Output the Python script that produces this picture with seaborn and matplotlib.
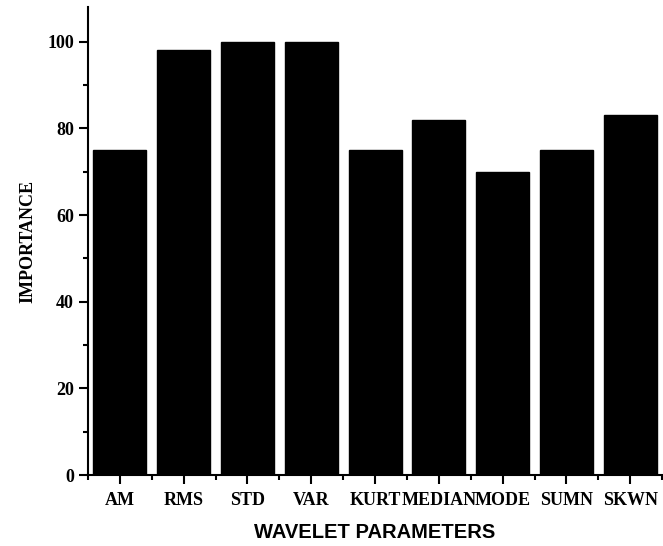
import matplotlib
matplotlib.use("Agg")
import matplotlib.pyplot as plt
import seaborn as sns
import pandas as pd
from matplotlib.ticker import MultipleLocator, FixedLocator

categories = ["AM", "RMS", "STD", "VAR", "KURT", "MEDIAN", "MODE", "SUMN", "SKWN"]
importance = [75, 98, 100, 100, 75, 82, 70, 75, 83]

df = pd.DataFrame({"param": categories, "importance": importance})

sns.set_style("ticks")
plt.rcParams['font.family'] = ['Liberation Serif', 'DejaVu Serif']

fig = plt.figure(figsize=(6.63, 5.46), dpi=100)
ax = fig.add_axes([0.1327, 0.130, 0.866, 0.857])

sns.barplot(data=df, x="param", y="importance", color="black", width=0.83,
            saturation=1, ax=ax, edgecolor="black")

ax.set_ylim(0, 108)
ax.set_xlim(-0.5, len(categories) - 0.5)
ax.yaxis.set_major_locator(MultipleLocator(20))
ax.yaxis.set_minor_locator(MultipleLocator(10))
ax.xaxis.set_minor_locator(FixedLocator([i - 0.5 for i in range(len(categories) + 1)]))

sns.despine(ax=ax)
for s in ["left", "bottom"]:
    ax.spines[s].set_linewidth(1.5)
    ax.spines[s].set_color("black")

ax.tick_params(axis="both", which="major", direction="out", length=6.5, width=1.5,
               labelsize=13, colors="black", labelcolor="black")
ax.tick_params(axis="x", which="major", pad=6)
ax.tick_params(axis="both", which="minor", direction="out", length=3.6, width=1.5,
               colors="black")
for lab in ax.get_xticklabels() + ax.get_yticklabels():
    lab.set_fontweight("bold")
    lab.set_family(["Liberation Serif"])

ax.set_xlabel("WAVELET PARAMETERS", fontsize=14.5, fontweight="bold",
              family=["Liberation Sans"], color="black")
ax.set_ylabel("IMPORTANCE", fontsize=13, fontweight="bold",
              family=["Liberation Serif"], color="black")
ax.xaxis.set_label_coords(0.5, -0.122)
ax.yaxis.set_label_coords(-0.1045, 0.5)
ax.xaxis.label.set_va("center")
ax.yaxis.label.set_va("center")

fig.savefig("out.png", dpi=100)
